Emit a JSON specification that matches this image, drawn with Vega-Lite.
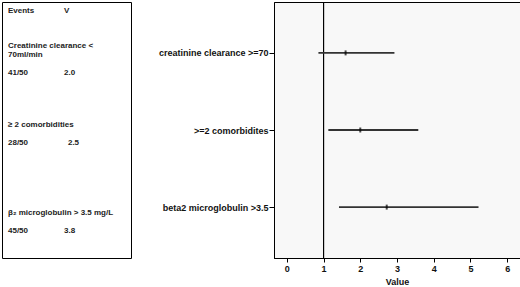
{
  "$schema": "https://vega.github.io/schema/vega-lite/v6.json",
  "padding": {"left": 1, "top": 1, "right": 0, "bottom": 0},
  "background": "white",
  "config": {
    "font": "Liberation Sans",
    "concat": {"spacing": 143},
    "view": {"stroke": "black", "strokeWidth": 1}
  },
  "bounds": "flush",
  "spacing": 143,
  "hconcat": [
    {
      "width": 129,
      "height": 256,
      "data": {"values": [
        {"text": "Events", "col": 0, "line": 0},
        {"text": "V", "col": 1, "line": 0},
        {"text": "Creatinine clearance <", "col": 0, "line": 4},
        {"text": "70ml/min", "col": 0, "line": 5},
        {"text": "41/50", "col": 0, "line": 7},
        {"text": "2.0", "col": 1, "line": 7},
        {"text": "≥ 2 comorbidities", "col": 0, "line": 13},
        {"text": "28/50", "col": 0, "line": 15},
        {"text": "2.5", "col": 1.07, "line": 15},
        {"text": "β₂ microglobulin > 3.5 mg/L", "col": 0, "line": 23},
        {"text": "45/50", "col": 0, "line": 25},
        {"text": "3.8", "col": 1, "line": 25}
      ]},
      "mark": {"type": "text", "align": "left", "baseline": "middle", "fontSize": 8, "fontWeight": "bold", "fill": "#222222"},
      "encoding": {
        "x": {"field": "col", "type": "quantitative", "scale": {"domain": [-0.107, 2.196], "nice": false, "zero": false}, "axis": null},
        "y": {"field": "line", "type": "quantitative", "scale": {"domain": [-1.02, 28.07], "nice": false, "zero": false, "reverse": true}, "axis": null},
        "text": {"field": "text"}
      }
    },
    {
      "width": 246,
      "height": 256,
      "view": {"fill": "#f8f8f8", "stroke": "black"},
      "data": {"values": [
        {"factor": "creatinine clearance >=70", "est": 1.6, "low": 0.86, "high": 2.93},
        {"factor": ">=2 comorbidites", "est": 2.0, "low": 1.13, "high": 3.58},
        {"factor": "beta2 microglobulin >3.5", "est": 2.72, "low": 1.42, "high": 5.22}
      ]},
      "layer": [
        {
          "mark": {"type": "rule", "color": "black", "strokeWidth": 1},
          "encoding": {"x": {"datum": 1, "type": "quantitative"}}
        },
        {
          "mark": {"type": "rule", "color": "#333", "strokeWidth": 1.8},
          "encoding": {
            "y": {"field": "factor", "type": "nominal"},
            "x": {"field": "low", "type": "quantitative"},
            "x2": {"field": "high"}
          }
        },
        {
          "mark": {"type": "tick", "orient": "vertical", "color": "black", "thickness": 2, "size": 5},
          "encoding": {
            "y": {"field": "factor", "type": "nominal"},
            "x": {"field": "est", "type": "quantitative"}
          }
        }
      ],
      "encoding": {
        "x": {"type": "quantitative",
          "scale": {"domain": [-0.35, 6.35], "nice": false, "zero": false},
          "axis": {"title": "Value", "values": [0, 1, 2, 3, 4, 5, 6], "grid": false, "domainColor": "black", "tickColor": "black", "tickSize": 4, "labelFontSize": 9, "labelFontWeight": "bold", "labelColor": "#111", "labelPadding": 2, "titleFontSize": 9, "titleFontWeight": "bold", "titleColor": "#111", "titlePadding": 4}
        },
        "y": {"type": "nominal",
          "sort": null,
          "scale": {"type": "point", "padding": 0.66},
          "axis": {"title": null, "grid": false, "domainColor": "black", "tickColor": "black", "tickSize": 5, "labelFontSize": 9, "labelFontWeight": "bold", "labelColor": "#111", "labelPadding": 1}
        }
      }
    }
  ]
}
